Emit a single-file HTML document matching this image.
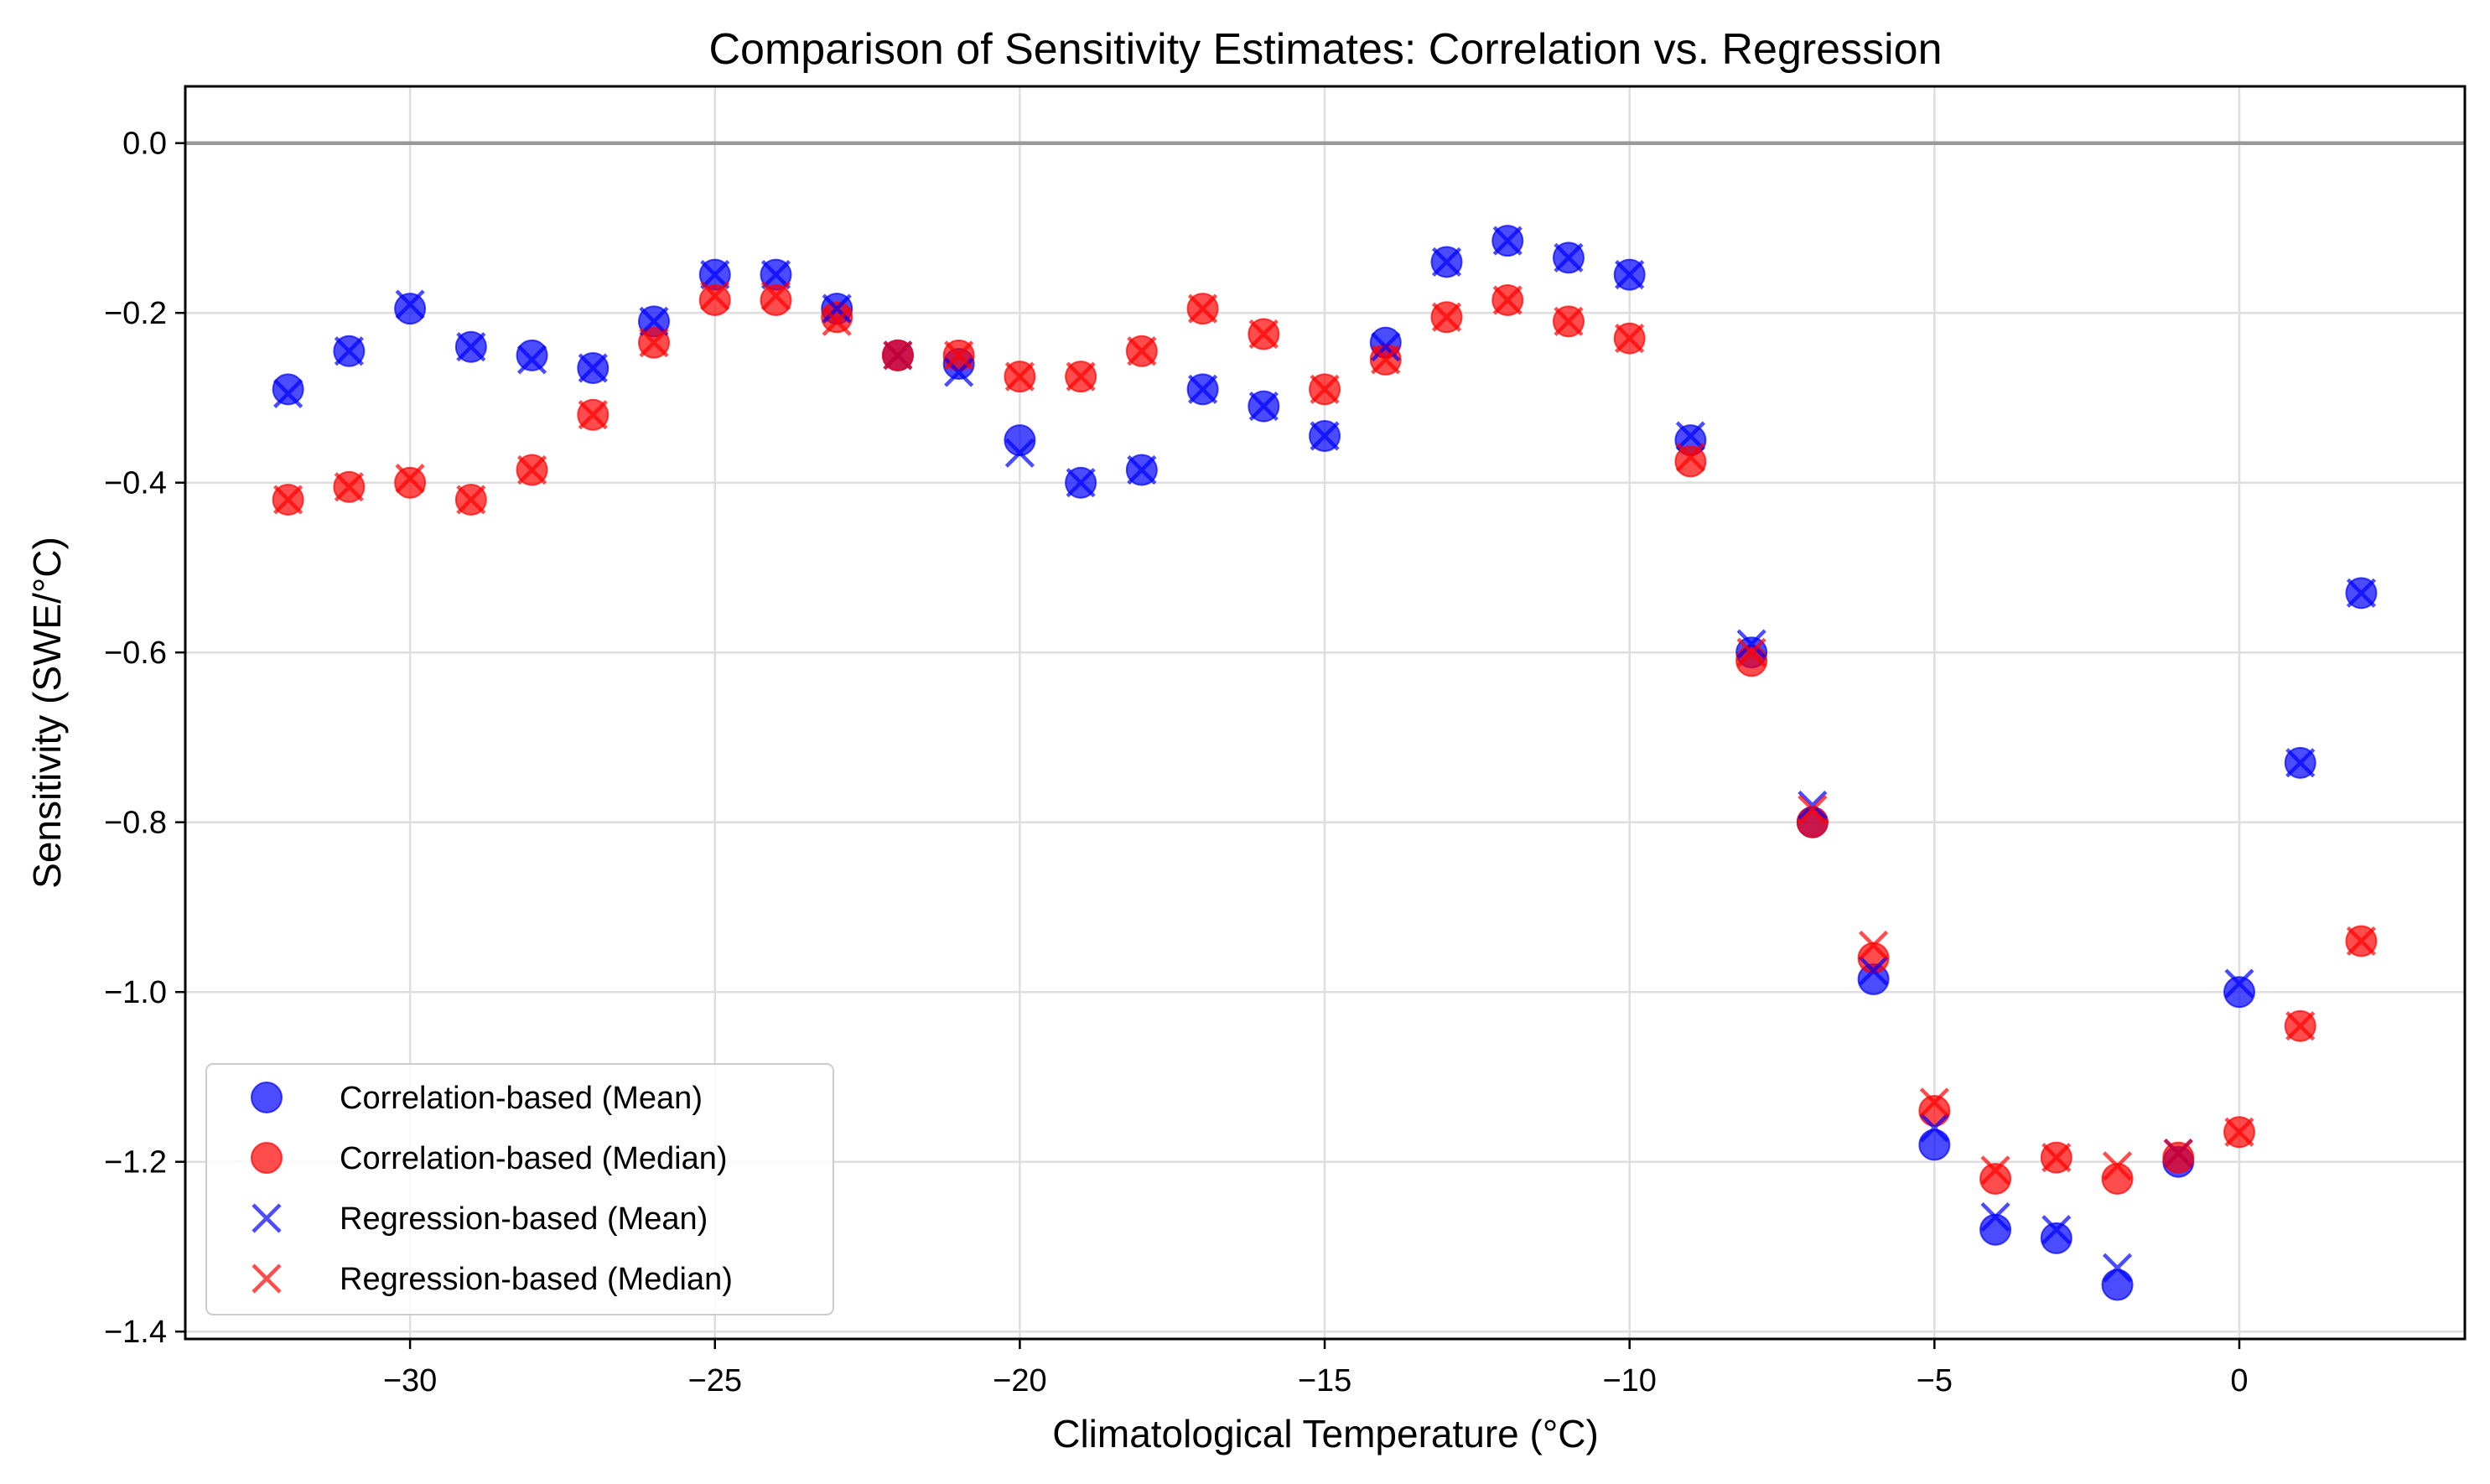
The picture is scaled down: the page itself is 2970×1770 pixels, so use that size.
<!DOCTYPE html>
<html><head><meta charset="utf-8"><style>
html,body{margin:0;padding:0;background:#fff;}
svg{display:block;font-family:"Liberation Sans",sans-serif;}
</style></head><body>
<svg id="chart" width="2970" height="1770" viewBox="0 0 2970 1770"></svg>
<script>
const temps = [-32,-31,-30,-29,-28,-27,-26,-25,-24,-23,-22,-21,-20,-19,-18,-17,-16,-15,-14,-13,-12,-11,-10,-9,-8,-7,-6,-5,-4,-3,-2,-1,0,1,2];
const corrMean = [-0.29,-0.245,-0.195,-0.24,-0.25,-0.265,-0.21,-0.155,-0.155,-0.195,-0.25,-0.26,-0.35,-0.40,-0.385,-0.29,-0.31,-0.345,-0.235,-0.14,-0.115,-0.135,-0.155,-0.35,-0.60,-0.80,-0.985,-1.18,-1.28,-1.29,-1.345,-1.20,-1.00,-0.73,-0.53];
const corrMedian = [-0.42,-0.405,-0.40,-0.42,-0.385,-0.32,-0.235,-0.185,-0.185,-0.205,-0.25,-0.25,-0.275,-0.275,-0.245,-0.195,-0.225,-0.29,-0.255,-0.205,-0.185,-0.21,-0.23,-0.375,-0.61,-0.80,-0.96,-1.14,-1.22,-1.195,-1.22,-1.195,-1.165,-1.04,-0.94];
const regMean = [-0.295,-0.245,-0.19,-0.24,-0.255,-0.265,-0.21,-0.155,-0.155,-0.195,-0.25,-0.27,-0.365,-0.40,-0.385,-0.29,-0.31,-0.345,-0.24,-0.14,-0.115,-0.135,-0.155,-0.345,-0.59,-0.78,-0.975,-1.16,-1.265,-1.28,-1.325,-1.19,-0.99,-0.73,-0.53];
const regMedian = [-0.42,-0.405,-0.395,-0.42,-0.385,-0.32,-0.235,-0.18,-0.18,-0.21,-0.25,-0.25,-0.275,-0.275,-0.245,-0.195,-0.225,-0.29,-0.255,-0.205,-0.185,-0.21,-0.23,-0.37,-0.60,-0.785,-0.945,-1.13,-1.21,-1.195,-1.205,-1.19,-1.165,-1.04,-0.94];
const xTicks = [-30,-25,-20,-15,-10,-5,0];
const yTicks = [0,-0.2,-0.4,-0.6,-0.8,-1.0,-1.2,-1.4];

const NS="http://www.w3.org/2000/svg";
const svg=document.getElementById('chart');
const L=221,R=2940,T=103,B=1597;
function sx(v){return 2671+v*72.73;}
function sy(v){return 170.7-v*1012.5;}
function mk(tag,attrs,parent){const e=document.createElementNS(NS,tag);for(const k in attrs)e.setAttribute(k,attrs[k]);(parent||svg).appendChild(e);return e;}
function fmt(v){let s=Math.abs(v).toFixed(1);return (v<-1e-9?'\u2212':'')+s;}

xTicks.forEach(t=>{const g=mk('line',{x1:sx(t),x2:sx(t),y1:T,y2:B,stroke:'#dedede','stroke-width':2.5});

});
yTicks.forEach(t=>{const g=mk('line',{x1:L,x2:R,y1:sy(t),y2:sy(t),stroke:'#dedede','stroke-width':2.5});

});
const z=mk('line',{x1:L,x2:R,y1:sy(0),y2:sy(0),stroke:'#999','stroke-width':4.5});



function circles(vals,color,name){vals.forEach((v,i)=>{const c=mk('circle',{cx:sx(temps[i]),cy:sy(v),r:18,fill:color,'fill-opacity':0.7,stroke:color,'stroke-opacity':0.7,'stroke-width':2});

});}
function crosses(vals,color,name){vals.forEach((v,i)=>{const x=sx(temps[i]),y=sy(v),h=16;
const p=mk('path',{d:`M${x-h},${y-h}L${x+h},${y+h}M${x-h},${y+h}L${x+h},${y-h}`,stroke:color,'stroke-opacity':0.7,'stroke-width':4.5,fill:'none'});

});}
circles(corrMean,'#0000ff','corr-mean-point');
circles(corrMedian,'#ff0000','corr-median-point');
crosses(regMean,'#0000ff','reg-mean-point');
crosses(regMedian,'#ff0000','reg-median-point');

const fr=mk('rect',{x:L,y:T,width:R-L,height:B-T,fill:'none',stroke:'#000','stroke-width':3});


xTicks.forEach(t=>{mk('line',{x1:sx(t),x2:sx(t),y1:B,y2:B+12,stroke:'#000','stroke-width':2.5});
const tx=mk('text',{x:sx(t),y:B+62,'font-size':38,'text-anchor':'middle',fill:'#000'});tx.textContent=(t<0?'\u2212':'')+Math.abs(t);

});
yTicks.forEach(t=>{mk('line',{x1:L-12,x2:L,y1:sy(t),y2:sy(t),stroke:'#000','stroke-width':2.5});
const tx=mk('text',{x:L-22,y:sy(t)+13,'font-size':38,'text-anchor':'end',fill:'#000'});tx.textContent=fmt(t);

});
const ti=mk('text',{x:1581,y:76,'font-size':52,'text-anchor':'middle',fill:'#000'});ti.textContent='Comparison of Sensitivity Estimates: Correlation vs. Regression';


const xl=mk('text',{x:1581,y:1726,'font-size':46,'text-anchor':'middle',fill:'#000'});xl.textContent='Climatological Temperature (°C)';


const yl=mk('text',{x:0,y:0,'font-size':46,'text-anchor':'middle',fill:'#000',transform:'translate(72,850) rotate(-90)'});yl.textContent='Sensitivity (SWE/°C)';



const lg=mk('g',{});


mk('rect',{x:246,y:1269,width:748,height:299,rx:8,fill:'#fff','fill-opacity':0.8,stroke:'#ccc','stroke-width':2},lg);
const labels=['Correlation-based (Mean)','Correlation-based (Median)','Regression-based (Mean)','Regression-based (Median)'];
const colors=['#0000ff','#ff0000','#0000ff','#ff0000'];
labels.forEach((lab,i)=>{const y=1309+i*72,x=318;
if(i<2){mk('circle',{cx:x,cy:y,r:18,fill:colors[i],'fill-opacity':0.7,stroke:colors[i],'stroke-opacity':0.7,'stroke-width':2},lg);}
else{const h=16;mk('path',{d:`M${x-h},${y-h}L${x+h},${y+h}M${x-h},${y+h}L${x+h},${y-h}`,stroke:colors[i],'stroke-opacity':0.7,'stroke-width':4.5},lg);}
const t=mk('text',{x:405,y:y+13,'font-size':38,fill:'#000'},lg);t.textContent=lab;

});
</script>
</body></html>
